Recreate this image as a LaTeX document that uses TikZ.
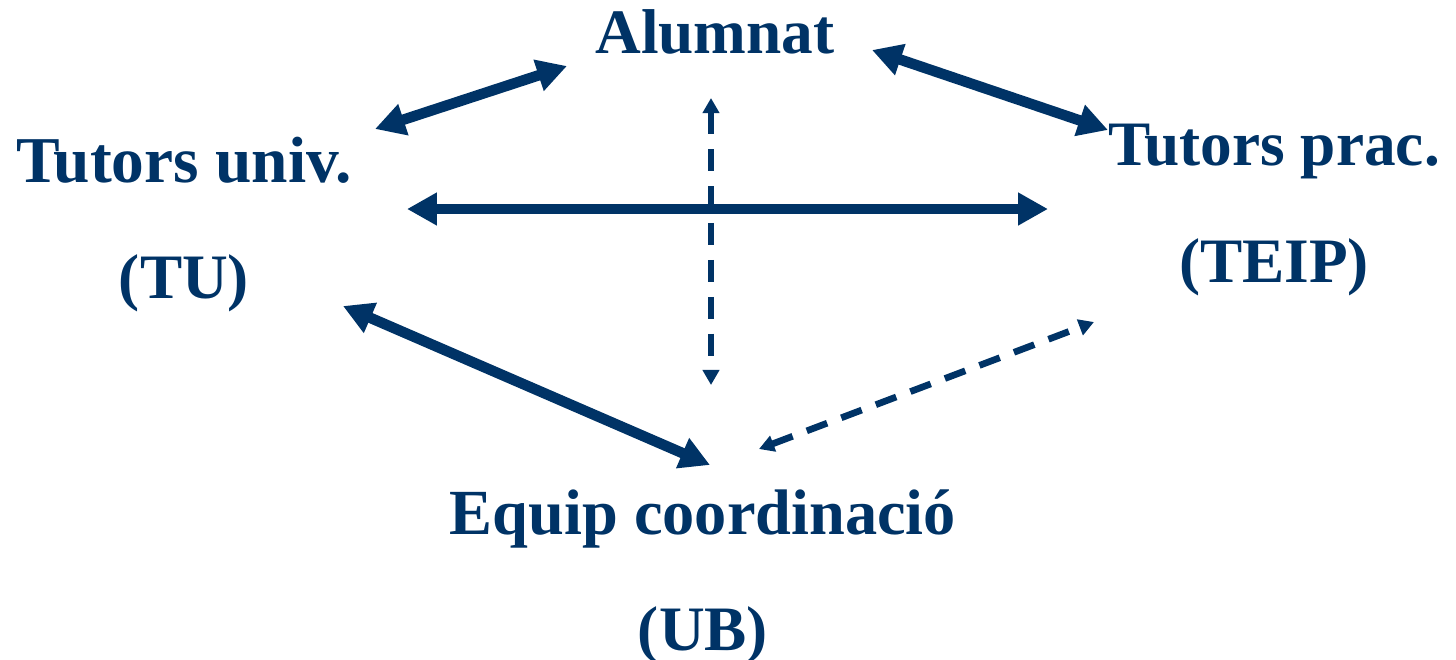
\documentclass[tikz,border=0pt]{standalone}
\usepackage{fontspec}
\setmainfont{Liberation Serif}
\usepackage{xcolor}
\definecolor{blaufosc}{RGB}{0, 51, 102}
\usepackage{tikz}
\usetikzlibrary{arrows.meta, positioning}

\begin{document}
\begin{tikzpicture}[x=0.01cm, y=-0.01cm,
    etiqueta/.style={text=blaufosc, font=\fontsize{18}{21}\selectfont\bfseries, anchor=base, inner sep=0pt},
    relacio/.style={{Triangle[length=8.5pt,width=8.8pt]}-{Triangle[length=8.5pt,width=8.8pt]}, draw=blaufosc, line width=3pt},
    suport/.style={{Triangle[length=4.3pt,width=4.6pt]}-{Triangle[length=4.3pt,width=4.6pt]}, draw=blaufosc, line width=1.9pt, dash pattern=on 6.2pt off 4.3pt}]

    \useasboundingbox (0,0) rectangle (1456,660);

    % Agents
    \node[etiqueta] (alumnat) at (715,53) {Alumnat};
    \node[etiqueta, font=\fontsize{18.6}{21}\selectfont\bfseries] (tuniv) at (184,182) {Tutors univ.};
    \node[etiqueta, below=1.16cm of tuniv.base, anchor=base] (tu) {(TU)};
    \node[etiqueta] (tprac) at (1274,165) {Tutors prac.};
    \node[etiqueta, below=1.17cm of tprac.base, anchor=base] (teip) {(TEIP)};
    \node[etiqueta, font=\fontsize{18.3}{21}\selectfont\bfseries] (equip) at (703,534) {Equip coordinació};
    \node[etiqueta, below=1.16cm of equip.base, anchor=base] (ub) {(UB)};

    % Arrow ends
    \coordinate (al-e) at (567,66);
    \coordinate (al-d) at (872,50);
    \coordinate (al-s) at (711,98);
    \coordinate (tuniv-n) at (375,129);
    \coordinate (tuniv-e) at (407,209);
    \coordinate (tu-s) at (343,306);
    \coordinate (tprac-n) at (1108,130);
    \coordinate (tprac-w) at (1048,209);
    \coordinate (teip-s) at (1094,322);
    \coordinate (equip-n) at (710,465);
    \coordinate (equip-ne) at (759,449);
    \coordinate (equip-c) at (711,385);

    % Relations
    \draw[relacio] (tuniv-n) -- (al-e);
    \draw[relacio] (al-d) -- (tprac-n);
    \draw[relacio] (tuniv-e) -- (tprac-w);
    \draw[relacio] (tu-s) -- (equip-n);
    \draw[suport] (al-s) -- (equip-c);
    \draw[suport] (equip-ne) -- (teip-s);
\end{tikzpicture}
\end{document}
